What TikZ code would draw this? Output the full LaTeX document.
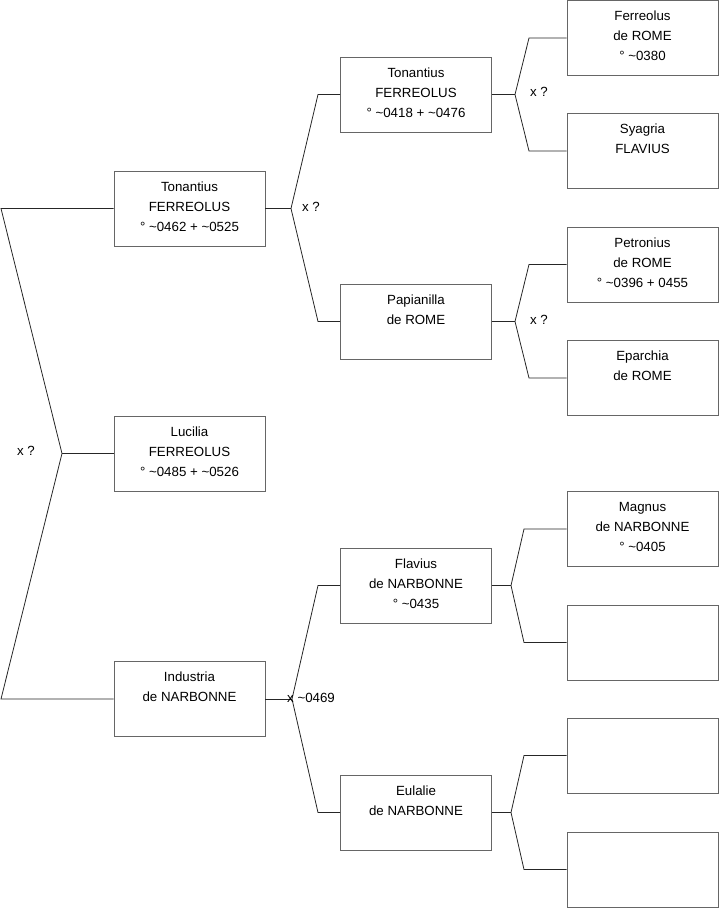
\documentclass[tikz,border=0pt]{standalone}
\usepackage{fontspec}
\setmainfont{Liberation Sans}
\newcommand\tld{\textasciitilde}
\begin{document}
\begin{tikzpicture}[x=1pt,y=-1pt,
  box/.style={draw=black!60, line width=0.9pt, minimum width=151pt, minimum height=75pt, inner sep=0pt, fill=white},
  txt/.style={anchor=north, inner sep=0pt, align=center, font=\fontsize{13.3}{20}\selectfont},
  lbl/.style={inner sep=0pt, font=\fontsize{13.3}{15}\selectfont},
  conn/.style={draw=black!85, line width=0.8pt}]
\useasboundingbox (0,0) rectangle (719,908);
% column 1
\node[box] (T1) at (189.5,208.5) {};
\node[box] (L1) at (189.5,453.5) {};
\node[box] (I1) at (189.5,699) {};
% column 2
\node[box] (T2) at (416,94.5) {};
\node[box] (P2) at (416,321.5) {};
\node[box] (F2) at (416,585.5) {};
\node[box] (E2) at (416,812.5) {};
% column 3
\node[box] (Fe3) at (642.5,38) {};
\node[box] (Sy3) at (642.5,151) {};
\node[box] (Pe3) at (642.5,264.5) {};
\node[box] (Ep3) at (642.5,378) {};
\node[box] (Ma3) at (642.5,529) {};
\node[box] (X1) at (642.5,642.5) {};
\node[box] (X2) at (642.5,755.5) {};
\node[box] (X3) at (642.5,869.5) {};
% texts
\node[txt] (T1t) at (T1.north) {\rule{0pt}{20.5pt}Tonantius\\FERREOLUS\\° \tld0462 + \tld0525};
\node[txt] (L1t) at (L1.north) {\rule{0pt}{20.5pt}Lucilia\\FERREOLUS\\° \tld0485 + \tld0526};
\node[txt] (I1t) at (I1.north) {\rule{0pt}{20.5pt}Industria\\de NARBONNE};
\node[txt] (T2t) at (T2.north) {\rule{0pt}{20.5pt}Tonantius\\FERREOLUS\\° \tld0418 + \tld0476};
\node[txt] (P2t) at (P2.north) {\rule{0pt}{20.5pt}Papianilla\\de ROME};
\node[txt] (F2t) at (F2.north) {\rule{0pt}{20.5pt}Flavius\\de NARBONNE\\° \tld0435};
\node[txt] (E2t) at (E2.north) {\rule{0pt}{20.5pt}Eulalie\\de NARBONNE};
\node[txt] (Fe3t) at (Fe3.north) {\rule{0pt}{20.5pt}Ferreolus\\de ROME\\° \tld0380};
\node[txt] (Sy3t) at (Sy3.north) {\rule{0pt}{20.5pt}Syagria\\FLAVIUS};
\node[txt] (Pe3t) at (Pe3.north) {\rule{0pt}{20.5pt}Petronius\\de ROME\\° \tld0396 + 0455};
\node[txt] (Ep3t) at (Ep3.north) {\rule{0pt}{20.5pt}Eparchia\\de ROME};
\node[txt] (Ma3t) at (Ma3.north) {\rule{0pt}{20.5pt}Magnus\\de NARBONNE\\° \tld0405};
% fork coordinates
\coordinate (a0) at (1,208.5);
\coordinate (b0) at (1,699);
\coordinate (f0) at (62,453.5);
\coordinate (f1) at (291,208.5);
\coordinate (f1a) at (318,94.5);
\coordinate (f1b) at (318,321.5);
\coordinate (f2) at (292,699);
\coordinate (f2a) at (318,585.5);
\coordinate (f2b) at (318,812.5);
\coordinate (f3) at (515,94.5);
\coordinate (f3a) at (529,38);
\coordinate (f3b) at (529,151);
\coordinate (f4) at (515,321.5);
\coordinate (f4a) at (529,264.5);
\coordinate (f4b) at (529,378);
\coordinate (f5) at (511,585.5);
\coordinate (f5a) at (524,529);
\coordinate (f5b) at (524,642.5);
\coordinate (f6) at (511,812.5);
\coordinate (f6a) at (524,755.5);
\coordinate (f6b) at (524,869.5);
% connectors
\draw[conn] (T1.west) -- (a0) -- (f0) -- (b0) -- (I1.west);
\draw[conn] (f0) -- (L1.west);
\draw[conn] (T1.east) -- (f1);
\draw[conn] (T2.west) -- (f1a) -- (f1) -- (f1b) -- (P2.west);
\draw[conn] (I1.east) -- (f2);
\draw[conn] (F2.west) -- (f2a) -- (f2) -- (f2b) -- (E2.west);
\draw[conn] (T2.east) -- (f3);
\draw[conn] (Fe3.west) -- (f3a) -- (f3) -- (f3b) -- (Sy3.west);
\draw[conn] (P2.east) -- (f4);
\draw[conn] (Pe3.west) -- (f4a) -- (f4) -- (f4b) -- (Ep3.west);
\draw[conn] (F2.east) -- (f5);
\draw[conn] (Ma3.west) -- (f5a) -- (f5) -- (f5b) -- (X1.west);
\draw[conn] (E2.east) -- (f6);
\draw[conn] (X2.west) -- (f6a) -- (f6) -- (f6b) -- (X3.west);
% labels
\node[lbl] (x0) at (26,451) {x ?};
\node[lbl] (x1) at (311,207) {x ?};
\node[lbl, anchor=west] (x2) at (287,698) {x \tld0469};
\node[lbl] (x3) at (539,92) {x ?};
\node[lbl] (x4) at (539,320) {x ?};
\end{tikzpicture}
\end{document}
